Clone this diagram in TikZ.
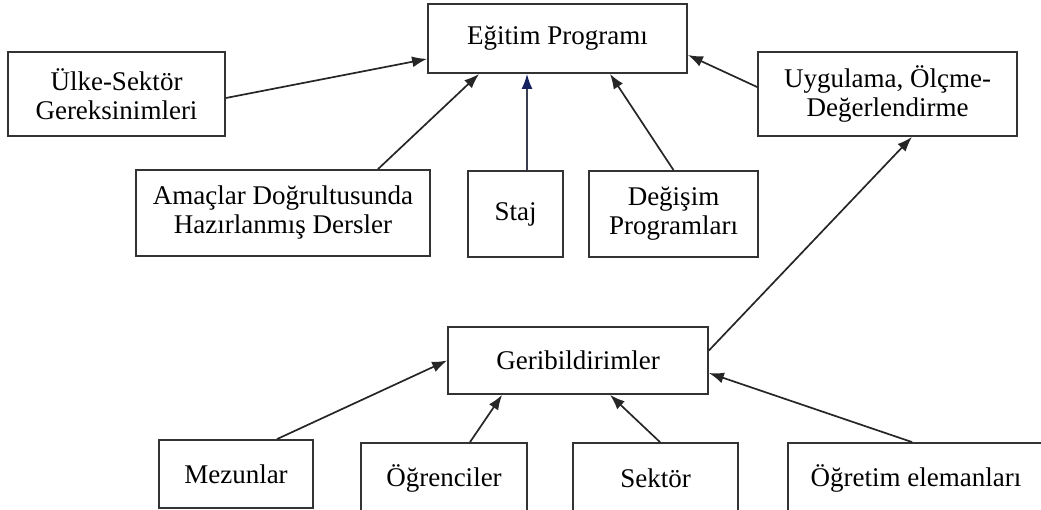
\documentclass[tikz,border=0pt]{standalone}
\usepackage{fontspec}
\setmainfont{Liberation Serif}
\usetikzlibrary{positioning, arrows.meta}
\definecolor{stajblue}{RGB}{20,35,95}

\begin{document}
\begin{tikzpicture}[x=1pt, y=-1pt, >={Latex[length=15pt,width=11pt]},
  blok/.style={draw=black!80, line width=1.8pt, rectangle, align=center, inner sep=0pt,
    font=\fontsize{27}{29}\selectfont},
  ok/.style={->, line width=1.7pt, black!85}]
  \useasboundingbox (0,0) rectangle (1041,510);
  \clip (0,0) rectangle (1041,510);

  % Define blocks
  \node [blok, minimum width=259pt, minimum height=69pt] (egitim) at (557.5,38.5) {Eğitim Programı};
  \node [blok, minimum width=217pt, minimum height=84pt] (ulke) at (116.5,94) {Ülke-Sektör\\Gereksinimleri};
  \node [blok, minimum width=259pt, minimum height=84pt] (uygulama) at (887.5,94) {Uygulama, Ölçme-\\Değerlendirme};
  \node [blok, minimum width=294pt, minimum height=86pt] (amaclar) at (283,213) {Amaçlar Doğrultusunda\\Hazırlanmış Dersler};
  \node [blok, minimum width=95pt, minimum height=86pt] (staj) at (515.5,214) {Staj};
  \node [blok, minimum width=169pt, minimum height=86pt] (degisim) at (673.5,214) {Değişim\\Programları};
  \node [blok, minimum width=260pt, minimum height=67pt] (geri) at (578,360.5) {Geribildirimler};
  \node [blok, minimum width=154pt, minimum height=68pt] (mezun) at (236,474) {Mezunlar};
  \node [blok, minimum width=166pt, minimum height=70pt] (ogrenci) at (444,478) {Öğrenciler};
  \node [blok, minimum width=165pt, minimum height=70pt] (sektor) at (655.5,478) {Sektör};
  \node [blok, minimum width=256pt, minimum height=70pt] (ogretim) at (916,478) {Öğretim elemanları};

  % Connect blocks with arrows
  \draw [ok] ([yshift=-4pt]ulke.east) -- ([yshift=15pt]egitim.south west);
  \draw [ok] ([xshift=95pt]amaclar.north) -- ([xshift=52pt]egitim.south west);
  \draw [ok, stajblue!40!black!80, -{Latex[length=15pt,width=11pt,color=stajblue]}]
    ([xshift=11.5pt]staj.north) -- ([xshift=11.5pt]staj.north |- egitim.south);
  \draw [ok] (degisim.north) -- ([xshift=52.5pt]egitim.south);
  \draw [ok] ([yshift=7pt]uygulama.west) -- ([yshift=-16.5pt]egitim.east);
  \draw [ok] ([yshift=10pt]geri.east) -- ([xshift=24.5pt]uygulama.south);
  \draw [ok] ([xshift=41pt]mezun.north) -- (geri.west);
  \draw [ok] ([xshift=26pt]ogrenci.north) -- ([xshift=55pt]geri.south west);
  \draw [ok] ([xshift=4.5pt]sektor.north) -- ([xshift=32pt]geri.south);
  \draw [ok] ([xshift=125pt]ogretim.north west) -- ([yshift=-12.5pt]geri.east);
\end{tikzpicture}
\end{document}
